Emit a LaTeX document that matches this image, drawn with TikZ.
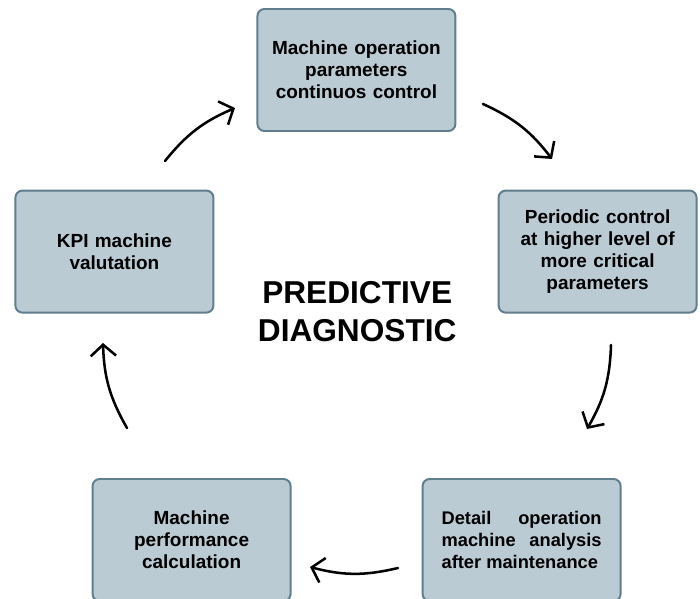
\documentclass[tikz,border=0pt]{standalone}
\usepackage{fontspec}
\setmainfont{Liberation Sans}
\usetikzlibrary{arrows.meta}
\definecolor{boxfill}{RGB}{187,203,212}
\definecolor{boxline}{RGB}{96,126,142}
\begin{document}
\begin{tikzpicture}[
    every node/.style={font=\bfseries\fontsize{13.5}{15.6}\selectfont},
    stage/.style={draw=boxline, line width=1.4pt, fill=boxfill, rounded corners=5pt,
      minimum width=4.95cm, minimum height=3.05cm, align=center, text width=4.4cm},
    cyc/.style={line width=1.8pt, line cap=round, -{Straight Barb[length=8pt,width=18pt,line width=1.8pt]}}]
  \useasboundingbox (0,0) rectangle (17.5,14.95);
  % five stages of the cycle
  \node[stage] (monitor) at (8.91,13.2) {Machine operation\\parameters\\continuos control};
  \node[stage] (periodic) at (14.94,8.66) {Periodic control\\at higher level of\\more critical\\parameters};
  \node[stage, font=\bfseries\fontsize{13}{15.6}\selectfont, align=justify, text width=4cm] (detail) at (13.04,1.45) {Detail operation machine analysis after maintenance};
  \node[stage] (perf) at (4.79,1.45) {Machine\\performance\\calculation};
  \node[stage] (kpi) at (2.86,8.66) {KPI machine\\valutation};
  % title in the middle
  \node[font=\bfseries\fontsize{22.5}{27}\selectfont, align=center] (title) at (8.93,7.17) {PREDICTIVE\\DIAGNOSTIC};
  % arrow ends
  \coordinate (a1) at (4.125,10.925);  \coordinate (b1) at (5.875,12.25);
  \coordinate (a2) at (12.075,12.35);  \coordinate (b2) at (13.8,10.975);
  \coordinate (a3) at (15.275,6.325);  \coordinate (b3) at (14.675,4.225);
  \coordinate (a4) at (9.95,0.75);     \coordinate (b4) at (7.75,0.775);
  \coordinate (a5) at (3.175,4.25);    \coordinate (b5) at (2.575,6.375);
  \foreach \i in {1,...,5}
    \draw[cyc] (a\i) to[bend left=14] (b\i);
\end{tikzpicture}
\end{document}
